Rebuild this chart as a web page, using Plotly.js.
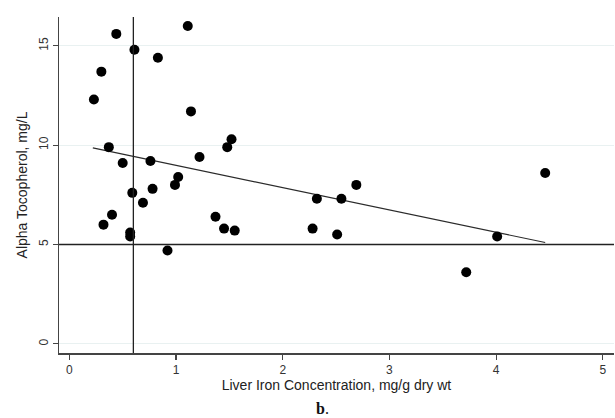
<!DOCTYPE html>
<html>
<head>
<meta charset="utf-8">
<script src="https://cdn.plot.ly/plotly-3.0.1.min.js"></script>
<style>html,body{margin:0;padding:0;background:#fff;}#chart{width:615px;height:418px;}</style>
</head>
<body>
<div id="chart"></div>
<script>
// Liver iron concentration (mg/g dry wt)
var ironX = [0.23, 0.30, 0.44, 0.61, 0.83, 1.11, 1.14,
             0.37, 0.50, 0.76, 1.22, 1.48, 1.52, 1.02, 0.99, 0.59, 0.78, 0.69,
             0.40, 0.32, 0.57, 0.57, 0.92, 1.37, 1.45, 1.55,
             2.28, 2.32, 2.51, 2.55, 2.69, 3.72, 4.01, 4.46];
// Alpha tocopherol (mg/L)
var tocoY = [12.3, 13.7, 15.6, 14.8, 14.4, 16.0, 11.7,
             9.9, 9.1, 9.2, 9.4, 9.9, 10.3, 8.4, 8.0, 7.6, 7.8, 7.1,
             6.5, 6.0, 5.6, 5.4, 4.7, 6.4, 5.8, 5.7,
             5.8, 7.3, 5.5, 7.3, 8.0, 3.6, 5.4, 8.6];
// Fitted regression line endpoints
var fitX = [0.22, 4.46];
var fitY = [9.86, 5.10];
// Reference lines
var refX = 0.6;
var refY = 5;
var xTicks = [0, 1, 2, 3, 4, 5];
var yTicks = [0, 5, 10, 15];

var traces = [
  {x: fitX, y: fitY, type: 'scatter', mode: 'lines',
   line: {color: '#2b2b2b', width: 1.2}, hoverinfo: 'skip', showlegend: false},
  {x: ironX, y: tocoY, type: 'scatter', mode: 'markers',
   marker: {color: '#000', size: 10}, showlegend: false}
];

var layout = {
  width: 615, height: 418,
  margin: {l: 59, r: 1, t: 17, b: 65},
  paper_bgcolor: '#fff', plot_bgcolor: '#fff',
  showlegend: false,
  font: {family: 'Liberation Sans, Arial, sans-serif', color: '#333', size: 12},
  xaxis: {
    range: [-0.097, 5.105], tickvals: xTicks, ticktext: xTicks.map(String),
    showgrid: false, zeroline: false,
    showline: true, linecolor: '#444', linewidth: 1.5,
    ticks: 'outside', ticklen: 5, tickcolor: '#444', tickwidth: 1.2,
    tickfont: {size: 12, color: '#333'},
    title: {text: 'Liver Iron Concentration, mg/g dry wt', font: {size: 14, color: '#222'}, standoff: 1}
  },
  yaxis: {
    range: [-0.46, 16.45], tickvals: yTicks, ticktext: yTicks.map(String),
    tickangle: -90,
    showgrid: true, gridcolor: '#e9f1f1', gridwidth: 1, zeroline: false,
    showline: true, linecolor: '#444', linewidth: 1.5,
    ticks: 'outside', ticklen: 5, tickcolor: '#444', tickwidth: 1.2,
    tickfont: {size: 12, color: '#333'},
    title: {text: 'Alpha Tocopherol, mg/L', font: {size: 14, color: '#222'}, standoff: 6}
  },
  shapes: [
    {type: 'line', xref: 'x', yref: 'paper', x0: refX, x1: refX, y0: 0, y1: 1,
     line: {color: '#222', width: 1.3}},
    {type: 'line', xref: 'paper', yref: 'y', x0: 0, x1: 1, y0: refY, y1: refY,
     line: {color: '#222', width: 1.5}}
  ],
  annotations: [
    {text: '<b>b</b>.', xref: 'paper', yref: 'paper', x: 0.475, y: -0.165,
     xanchor: 'center', yanchor: 'middle', showarrow: false,
     font: {family: 'Liberation Serif, Times New Roman, serif', size: 16, color: '#111'}}
  ]
};

Plotly.newPlot('chart', traces, layout, {displayModeBar: false, staticPlot: true});
</script>
</body>
</html>
